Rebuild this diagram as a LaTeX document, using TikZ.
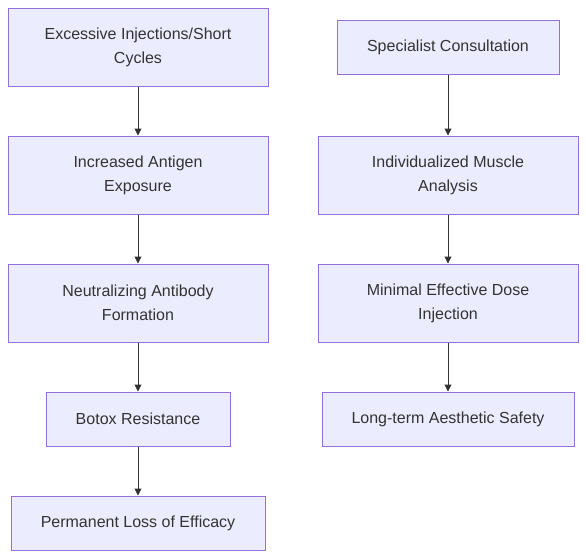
\documentclass[tikz,border=0pt]{standalone}
\usepackage{fontspec}
\setmainfont{Liberation Sans}
\usetikzlibrary{arrows.meta, positioning}
\definecolor{boxfill}{HTML}{ECECFF}
\definecolor{boxline}{HTML}{9370DB}
\definecolor{linkcol}{HTML}{333333}
\tikzstyle{flow}  = [rectangle, minimum width=260pt, minimum height=78pt, inner sep=0pt,
                     align=center, draw=boxline, line width=1pt, fill=boxfill, text=linkcol,
                     font=\fontsize{16}{24}\selectfont]
\tikzstyle{flowsm} = [flow, minimum height=54pt]
\tikzstyle{arrow} = [draw=linkcol, line width=1pt, -{Triangle[length=7pt,width=7pt]}]
\begin{document}
\begin{tikzpicture}[node distance=49pt]
  \useasboundingbox (0pt,0pt) rectangle (586pt,-558pt);
  % left column
  \node (inj)  [flow] at (138pt,-47pt) {Excessive Injections/Short\\Cycles};
  \node (ant)  [flow, below=of inj]  {Increased Antigen\\Exposure};
  \node (nab)  [flow, below=of ant]  {Neutralizing Antibody\\Formation};
  \node (res)  [flowsm, minimum width=184pt, below=of nab] {Botox Resistance};
  \node (loss) [flowsm, minimum width=254pt, below=of res] {Permanent Loss of Efficacy};
  % right column
  \node (spec) [flowsm, minimum width=222pt] at (448pt,-47pt) {Specialist Consultation};
  \node (ana)  [flow, below=61pt of spec] {Individualized Muscle\\Analysis};
  \node (dose) [flow, below=of ana]  {Minimal Effective Dose\\Injection};
  \node (safe) [flowsm, minimum width=252pt, below=of dose] {Long-term Aesthetic Safety};
  \draw [arrow] (inj) -- (ant);
  \draw [arrow] (ant) -- (nab);
  \draw [arrow] (nab) -- (res);
  \draw [arrow] (res) -- (loss);
  \draw [arrow] (spec) -- (ana);
  \draw [arrow] (ana) -- (dose);
  \draw [arrow] (dose) -- (safe);
\end{tikzpicture}
\end{document}
